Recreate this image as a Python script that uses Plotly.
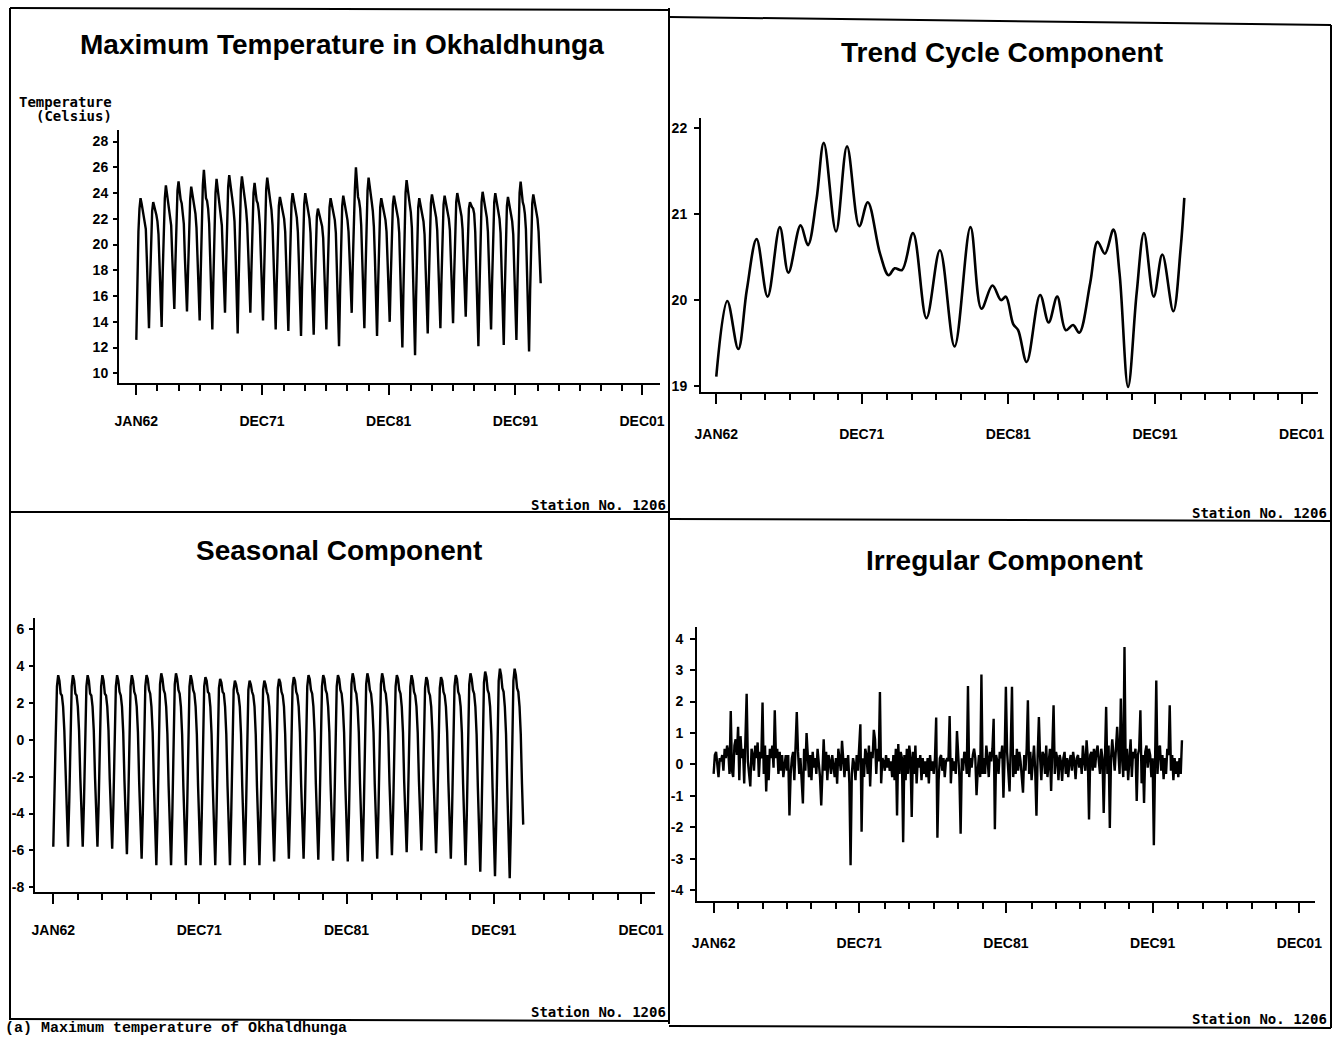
import plotly.graph_objects as go

W, H = 1338, 1038

# ---------------- data (monthly, Jan 1962 .. Dec 1993) ----------------
years = list(range(1962, 1994))
month_idx = list(range(384))          # 0 = JAN62

original_rows = [
    [12.6, 17.2, 21.0, 22.8, 23.6, 23.2, 22.7, 22.5, 22.0, 21.2, 18.8, 16.4],  # 1962
    [13.5, 17.0, 20.6, 22.6, 23.3, 23.0, 22.5, 22.3, 21.8, 20.8, 18.4, 16.0],
    [13.6, 17.8, 21.5, 23.6, 24.6, 24.0, 23.3, 23.0, 22.5, 21.5, 19.2, 17.0],
    [15.0, 18.5, 22.0, 24.2, 24.9, 24.1, 23.5, 23.2, 22.6, 21.6, 19.0, 16.8],
    [14.8, 17.9, 21.4, 23.5, 24.5, 23.9, 23.2, 23.0, 22.4, 21.3, 18.8, 16.5],
    [14.1, 17.8, 22.0, 24.6, 25.8, 24.2, 23.6, 23.4, 22.8, 21.6, 19.0, 16.2],
    [13.4, 17.3, 21.6, 24.0, 25.1, 24.4, 23.7, 23.3, 22.7, 21.5, 19.2, 16.8],
    [14.7, 18.2, 22.2, 24.5, 25.4, 24.6, 23.8, 23.5, 22.8, 21.8, 19.3, 16.4],
    [13.1, 17.4, 21.8, 24.3, 25.3, 24.5, 23.7, 23.4, 22.7, 21.6, 19.4, 16.9],
    [14.7, 18.0, 21.9, 24.0, 24.8, 24.1, 23.4, 23.2, 22.6, 21.5, 19.0, 16.5],
    [14.1, 17.6, 21.9, 24.3, 25.2, 24.4, 23.6, 23.3, 22.7, 21.5, 18.9, 16.2],
    [13.4, 17.0, 20.8, 23.0, 23.7, 23.2, 22.7, 22.5, 22.0, 21.0, 18.5, 16.0],
    [13.3, 17.0, 21.0, 23.2, 24.0, 23.4, 22.8, 22.6, 22.1, 21.0, 18.6, 16.0],
    [12.9, 16.8, 20.9, 23.1, 24.0, 23.4, 22.8, 22.6, 22.0, 20.9, 18.4, 16.1],
    [13.0, 16.6, 20.2, 22.2, 22.8, 22.5, 22.1, 21.9, 21.4, 20.5, 18.3, 16.3],
    [13.4, 17.0, 20.8, 22.9, 23.6, 23.1, 22.6, 22.4, 21.9, 20.9, 18.3, 15.7],
    [12.1, 16.4, 20.6, 23.0, 23.8, 23.2, 22.6, 22.4, 21.9, 21.0, 19.0, 17.2],
    [14.7, 18.4, 22.4, 24.3, 26.0, 24.6, 23.7, 23.4, 22.8, 21.5, 18.8, 16.3],
    [13.5, 17.6, 21.8, 24.2, 25.2, 24.4, 23.6, 23.3, 22.6, 21.4, 18.9, 16.0],
    [12.9, 16.8, 20.7, 22.9, 23.6, 23.1, 22.6, 22.4, 21.9, 21.0, 18.8, 16.6],
    [14.0, 17.4, 21.0, 23.1, 23.8, 23.3, 22.7, 22.5, 22.0, 20.9, 18.0, 15.4],
    [12.0, 16.5, 21.2, 24.0, 25.0, 24.2, 23.4, 23.1, 22.5, 21.3, 18.0, 15.0],
    [11.4, 16.0, 20.5, 22.9, 23.6, 23.1, 22.6, 22.4, 21.8, 20.8, 18.5, 16.2],
    [13.1, 17.0, 21.0, 23.2, 23.9, 23.4, 22.8, 22.6, 22.1, 21.1, 18.8, 16.4],
    [13.5, 17.2, 21.0, 23.1, 23.8, 23.3, 22.7, 22.5, 22.0, 21.1, 18.9, 16.6],
    [13.9, 17.5, 21.2, 23.3, 24.0, 23.5, 22.9, 22.7, 22.2, 21.2, 19.0, 16.8],
    [14.4, 17.6, 21.0, 22.8, 23.3, 23.0, 22.9, 22.8, 22.4, 21.0, 18.0, 15.3],
    [12.1, 16.4, 20.8, 23.3, 24.1, 23.5, 22.9, 22.7, 22.1, 21.0, 18.6, 16.2],
    [13.4, 17.2, 21.1, 23.3, 24.0, 23.4, 22.8, 22.6, 22.0, 20.9, 18.0, 15.0],
    [12.2, 16.4, 20.6, 23.0, 23.7, 23.1, 22.6, 22.3, 21.8, 20.8, 18.0, 15.2],
    [12.6, 17.0, 21.5, 24.0, 24.9, 24.0, 23.3, 23.0, 22.4, 21.2, 18.0, 14.8],
    [11.7, 16.4, 21.0, 23.2, 23.9, 23.4, 22.8, 22.6, 22.0, 21.0, 19.2, 17.0],  # 1993
]

seasonal_rows = [
    [-5.8, -3.4, 0.2, 2.9, 3.5, 3.2, 2.5, 2.4, 1.8, 0.5, -2.0, -4.4],  # 1962
    [-5.8, -3.4, 0.2, 2.9, 3.5, 3.2, 2.5, 2.4, 1.8, 0.5, -2.0, -4.4],
    [-5.8, -3.4, 0.2, 2.9, 3.5, 3.2, 2.5, 2.4, 1.8, 0.5, -2.0, -4.5],
    [-5.8, -3.4, 0.1, 2.9, 3.5, 3.2, 2.5, 2.4, 1.8, 0.5, -2.1, -4.6],
    [-5.9, -3.5, 0.1, 2.9, 3.5, 3.2, 2.6, 2.4, 1.8, 0.4, -2.2, -4.7],
    [-6.2, -3.7, 0.0, 2.9, 3.5, 3.2, 2.6, 2.4, 1.8, 0.4, -2.3, -4.9],
    [-6.45, -3.9, -0.1, 2.9, 3.5, 3.3, 2.7, 2.5, 1.8, 0.4, -2.4, -5.1],
    [-6.8, -4.1, -0.2, 3.0, 3.6, 3.3, 2.7, 2.5, 1.8, 0.3, -2.5, -5.2],
    [-6.8, -4.1, -0.2, 3.0, 3.6, 3.3, 2.7, 2.5, 1.8, 0.3, -2.5, -5.2],
    [-6.8, -4.1, -0.2, 2.9, 3.5, 3.2, 2.7, 2.5, 1.8, 0.3, -2.5, -5.2],
    [-6.8, -4.1, -0.2, 2.9, 3.4, 3.2, 2.6, 2.5, 1.8, 0.3, -2.5, -5.2],
    [-6.8, -4.1, -0.2, 2.8, 3.3, 3.1, 2.6, 2.5, 1.8, 0.3, -2.5, -5.2],
    [-6.8, -4.1, -0.3, 2.7, 3.2, 3.0, 2.6, 2.4, 1.8, 0.3, -2.5, -5.2],
    [-6.8, -4.1, -0.3, 2.7, 3.2, 3.0, 2.6, 2.4, 1.8, 0.3, -2.5, -5.2],
    [-6.8, -4.1, -0.3, 2.7, 3.2, 3.0, 2.6, 2.4, 1.8, 0.3, -2.5, -5.1],
    [-6.6, -4.0, -0.2, 2.8, 3.3, 3.1, 2.6, 2.4, 1.8, 0.3, -2.4, -5.0],
    [-6.45, -3.9, -0.1, 2.9, 3.4, 3.2, 2.6, 2.4, 1.8, 0.4, -2.4, -4.9],
    [-6.45, -3.9, -0.1, 2.9, 3.5, 3.3, 2.7, 2.5, 1.8, 0.4, -2.4, -5.0],
    [-6.5, -3.9, -0.1, 2.9, 3.5, 3.3, 2.7, 2.5, 1.8, 0.4, -2.4, -5.0],
    [-6.55, -4.0, -0.1, 2.9, 3.5, 3.3, 2.7, 2.5, 1.8, 0.4, -2.4, -5.1],
    [-6.6, -4.0, -0.1, 3.0, 3.6, 3.3, 2.7, 2.5, 1.8, 0.4, -2.4, -5.1],
    [-6.6, -4.0, -0.1, 3.0, 3.6, 3.3, 2.7, 2.5, 1.8, 0.4, -2.4, -5.0],
    [-6.45, -3.9, -0.1, 3.0, 3.6, 3.3, 2.7, 2.5, 1.8, 0.4, -2.3, -4.9],
    [-6.25, -3.8, 0.0, 2.9, 3.5, 3.3, 2.7, 2.5, 1.8, 0.4, -2.3, -4.8],
    [-6.1, -3.7, 0.0, 2.9, 3.5, 3.2, 2.6, 2.4, 1.8, 0.4, -2.2, -4.7],
    [-6.0, -3.6, 0.0, 2.8, 3.4, 3.2, 2.6, 2.4, 1.8, 0.4, -2.2, -4.8],
    [-6.15, -3.7, 0.0, 2.8, 3.4, 3.2, 2.6, 2.4, 1.8, 0.4, -2.3, -4.9],
    [-6.45, -3.9, -0.1, 2.9, 3.5, 3.3, 2.6, 2.4, 1.8, 0.4, -2.4, -5.1],
    [-6.8, -4.1, -0.2, 3.0, 3.6, 3.3, 2.7, 2.5, 1.8, 0.3, -2.5, -5.3],
    [-7.15, -4.3, -0.3, 3.1, 3.7, 3.4, 2.7, 2.5, 1.8, 0.3, -2.6, -5.5],
    [-7.4, -4.5, -0.4, 3.2, 3.85, 3.5, 2.8, 2.6, 1.8, 0.3, -2.6, -5.6],
    [-7.5, -4.6, -0.4, 3.2, 3.85, 3.5, 2.8, 2.6, 1.8, 0.3, -2.4, -4.6],  # 1993
]

irregular_rows = [
    [-0.3, 0.3, 0.4, -0.1, -0.4, 0.2, 0.1, 0.3, -0.2, 0.5, 0.2, 0.6],  # 1962
    [0.4, -0.3, 1.7, -0.2, -0.4, 0.6, 0.8, 0.3, 1.2, -0.5, 0.9, 0.2],
    [0.5, -0.6, 0.7, 2.25, 0.1, -0.4, -0.7, 0.5, 0.3, -0.2, 0.6, 0.2],
    [0.7, -0.4, 0.4, 0.2, 1.97, -0.3, 0.6, -0.86, 0.3, -0.5, 0.5, 0.2],
    [0.6, -0.1, 1.72, 0.2, 0.5, -0.3, 0.4, -0.2, 0.3, -0.4, 0.1, 0.3],
    [-0.2, 0.3, -1.62, -0.3, 0.2, 0.4, -0.5, 0.6, 1.67, 0.4, -0.3, 0.2],
    [-0.4, -1.24, 0.5, -0.2, 1.0, 0.1, -0.4, 0.3, -0.5, 0.4, -0.1, 0.2],
    [-0.3, 0.5, 0.1, -0.4, -1.3, 0.2, 0.8, -0.2, 0.4, -0.5, 0.3, 0.1],
    [-0.3, 0.3, 0.0, -0.4, 0.2, -0.61, 0.5, 0.1, -0.2, 0.75, 0.3, -0.4],
    [0.2, -0.2, 0.3, -0.6, -3.2, -0.3, 0.2, 0.0, -0.5, 0.3, -0.2, 0.4],
    [1.28, -2.14, 0.2, -0.4, 0.5, 0.3, -0.3, 0.6, -0.7, 0.4, 0.2, 1.1],
    [0.8, -0.3, 0.5, 0.1, 2.3, -0.6, 0.2, 0.1, -0.2, 0.3, -0.1, 0.2],
    [-0.2, 0.1, -0.4, 0.3, -0.5, 0.5, -1.62, 0.65, -0.3, 0.4, 0.2, -2.47],
    [0.3, -0.5, 0.5, -0.3, 0.6, 0.2, -1.67, 0.4, -0.3, 0.6, -0.6, 0.2],
    [-0.1, 0.3, -0.5, 0.2, -0.3, 0.1, -0.4, 0.2, -0.6, 0.3, -0.2, 0.1],
    [-0.3, 0.2, 1.49, -2.33, -0.5, 0.2, 0.3, -0.2, 0.2, -0.4, 0.1, 0.2],
    [0.1, 1.54, -0.6, 0.2, -0.2, 0.1, -0.3, 1.06, 0.3, -0.4, -2.2, 0.2],
    [-0.2, 0.4, 0.3, -0.3, 2.49, -0.4, 0.2, -0.1, 0.3, 0.5, 0.2, -0.98],
    [-0.2, 0.3, -0.4, 2.86, -0.3, 0.2, -0.3, 0.6, 0.2, -0.4, 0.4, 0.1],
    [0.5, 1.45, -2.06, 0.3, 0.1, -0.3, 0.4, 0.2, 0.6, -1.06, 0.3, 2.47],
    [0.4, -0.5, -0.86, 0.6, 2.47, -0.4, 0.3, -0.3, 0.5, -0.2, 0.4, 0.1],
    [-0.4, -0.9, 0.3, -0.2, 0.5, 2.04, -0.3, 0.4, -0.5, 0.2, 0.6, -0.2],
    [-1.63, 0.3, 1.51, 0.2, -0.5, 0.4, 0.3, -0.3, 0.6, -0.4, 0.2, 0.5],
    [-0.84, 0.3, 1.88, -0.3, 0.4, 0.2, -0.5, 0.3, 0.1, -0.52, 0.2, 0.4],
    [-0.3, 0.2, -0.4, 0.1, 0.3, -0.2, 0.4, 0.1, -0.47, 0.2, 0.3, -0.1],
    [0.2, -0.3, 0.6, 0.1, -0.2, 0.77, 0.2, -1.75, 0.3, 0.4, -0.2, 0.5],
    [-0.1, 0.4, 0.6, 0.1, -0.3, 0.5, 0.2, -1.54, 0.4, 1.83, -0.3, 0.6],
    [-2.02, 0.2, 0.8, 0.3, -0.2, 0.5, 1.2, 0.4, -0.3, 2.1, 0.2, -0.4],
    [3.73, -0.2, 0.5, -0.5, 0.3, 0.8, -0.4, 0.4, 0.2, 0.5, -1.16, 0.3],
    [0.5, 1.72, -0.6, 0.3, -1.22, 0.4, 0.6, -0.1, 0.5, 0.3, -0.4, 0.2],
    [-2.57, 0.4, 2.67, -0.3, 0.5, 0.6, -0.2, 0.3, -0.47, 0.2, -0.3, 0.5],
    [0.3, 1.88, -0.2, 0.3, -0.5, 0.2, -0.3, 0.1, -0.4, 0.2, -0.3, 0.77],  # 1993
]

# trend-cycle read at its turning points (month index, value)
trend_month = [0, 9, 18, 25, 33, 42, 52, 59, 69, 75, 82, 88, 98, 107, 117, 124,
               134, 141, 146, 152, 161, 172, 183, 195, 208, 217, 226, 233, 237,
               243, 247, 254, 265, 272, 279, 286, 292, 297, 306, 312, 318, 325,
               330, 337, 344, 350, 358, 365, 374, 380, 383]
trend_value = [19.11, 19.99, 19.43, 20.12, 20.71, 20.04, 20.85, 20.32, 20.87, 20.64,
               21.17, 21.83, 20.80, 21.79, 20.86, 21.14, 20.54, 20.29, 20.37, 20.35,
               20.78, 19.79, 20.58, 19.46, 20.85, 19.90, 20.17, 20.00, 20.04, 19.72,
               19.65, 19.28, 20.06, 19.74, 20.04, 19.65, 19.71, 19.62, 20.20, 20.68,
               20.54, 20.82, 20.31, 18.99, 20.08, 20.78, 20.04, 20.53, 19.87, 20.60,
               21.19]

major_ticks = [0, 119, 239, 359, 479]
major_labels = ["JAN62", "DEC71", "DEC81", "DEC91", "DEC01"]
minor_ticks = [20, 40, 60, 80, 100, 140, 160, 180, 200, 220, 260, 280, 300, 320,
               340, 380, 400, 420, 440, 460]

temp_ticks = [10, 12, 14, 16, 18, 20, 22, 24, 26, 28]
trend_ticks = [19, 20, 21, 22]
seas_ticks = [6, 4, 2, 0, -2, -4, -6, -8]
irr_ticks = [4, 3, 2, 1, 0, -1, -2, -3, -4]

original = [v for row in original_rows for v in row]
seasonal = [v for row in seasonal_rows for v in row]
irregular = [v for row in irregular_rows for v in row]


# ---------------- helpers ----------------
def px(x):
    return x / W


def py(y):
    return 1 - y / H


TICKFONT = dict(family="Liberation Sans", size=14, color="black", weight="bold")


def xaxis(dom, rng, anchor, standoff):
    return dict(domain=[px(dom[0]), px(dom[1])], range=rng, anchor=anchor,
                automargin=False,
                showline=True, linecolor="black", linewidth=2,
                ticks="outside", ticklen=10, tickwidth=2, tickcolor="black",
                tickmode="array", tickvals=major_ticks, ticktext=major_labels,
                tickfont=TICKFONT, ticklabelstandoff=standoff,
                minor=dict(tickmode="array", tickvals=minor_ticks, ticks="outside",
                           ticklen=6, tickwidth=2, tickcolor="black", showgrid=False),
                showgrid=False, zeroline=False, fixedrange=True)


def yaxis(dom, rng, anchor, vals, standoff, ticklen=4):
    return dict(domain=[py(dom[1]), py(dom[0])], range=rng, anchor=anchor,
                automargin=False,
                showline=True, linecolor="black", linewidth=2,
                ticks="outside", ticklen=ticklen, tickwidth=2, tickcolor="black",
                tickmode="array", tickvals=vals, ticktext=[str(v) for v in vals],
                tickfont=TICKFONT, ticklabelstandoff=standoff,
                showgrid=False, zeroline=False, fixedrange=True)


LINE = dict(color="black", width=2.4)

fig = go.Figure()
fig.add_trace(go.Scatter(x=month_idx, y=original, mode="lines", line=LINE,
                         xaxis="x", yaxis="y", showlegend=False, hoverinfo="skip"))
fig.add_trace(go.Scatter(x=trend_month, y=trend_value, mode="lines",
                         line=dict(color="black", width=2.6, shape="spline", smoothing=1.0),
                         xaxis="x2", yaxis="y2", showlegend=False, hoverinfo="skip"))
fig.add_trace(go.Scatter(x=month_idx, y=seasonal, mode="lines", line=LINE,
                         xaxis="x3", yaxis="y3", showlegend=False, hoverinfo="skip"))
fig.add_trace(go.Scatter(x=month_idx, y=irregular, mode="lines", line=LINE,
                         xaxis="x4", yaxis="y4", showlegend=False, hoverinfo="skip"))

layout = dict(
    template="none",
    width=W, height=H, margin=dict(l=0, r=0, t=0, b=0, pad=0, autoexpand=False),
    paper_bgcolor="white", plot_bgcolor="white", showlegend=False,
    xaxis=xaxis((119, 660), [-16.4, 496], "y", 14),
    yaxis=yaxis((130, 383), [9.25, 28.9], "x", temp_ticks, 2),
    xaxis2=xaxis((701, 1318), [-12.5, 492.4], "y2", 18),
    yaxis2=yaxis((118, 392), [18.93, 22.12], "x2", trend_ticks, 4, 5),
    xaxis3=xaxis((35, 655), [-14.9, 490.4], "y3", 14),
    yaxis3=yaxis((618, 892), [-8.25, 6.6], "x3", seas_ticks, 2),
    xaxis4=xaxis((697, 1315), [-13.6, 491.8], "y4", 18),
    yaxis4=yaxis((627, 901), [-4.34, 4.37], "x4", irr_ticks, 4, 5),
)
fig.update_layout(**layout)

# ---------------- frames ----------------
frame_lines = [
    (10, 8, 10, 1020),       # left edge
    (10, 8, 669, 10),        # top left
    (669, 17, 1331, 25),     # top right
    (669, 8, 669, 1024),     # middle divider
    (1331, 25, 1331, 1028),  # right edge
    (10, 512, 669, 512),     # mid horizontal left
    (669, 519, 1331, 521),   # mid horizontal right
    (10, 1019, 669, 1021),   # bottom left
    (669, 1026, 1331, 1028), # bottom right
]
shapes = []
for x0, y0, x1, y1 in frame_lines:
    shapes.append(dict(type="line", xref="paper", yref="paper",
                       x0=px(x0), y0=py(y0), x1=px(x1), y1=py(y1),
                       line=dict(color="black", width=2)))
fig.update_layout(shapes=shapes)

# ---------------- text ----------------
TITLEFONT = dict(family="Liberation Sans", size=28, color="black", weight="bold")
MONO = dict(family="DejaVu Sans Mono", size=14, color="black", weight="bold")

ann = []


def add_text(text, x, y, font, xanchor="center", yanchor="middle"):
    ann.append(dict(text=text, x=px(x), y=py(y), xref="paper", yref="paper",
                    showarrow=False, font=font, xanchor=xanchor, yanchor=yanchor,
                    borderpad=0))


add_text("Maximum Temperature in Okhaldhunga", 342, 45, TITLEFONT)
add_text("Trend Cycle Component", 1002, 52, TITLEFONT)
add_text("Seasonal Component", 339, 550, TITLEFONT)
add_text("Irregular Component", 1005, 560, TITLEFONT)

add_text("Temperature", 113, 102, MONO, xanchor="right")
add_text("(Celsius)", 113, 116, MONO, xanchor="right")

add_text("Station No. 1206", 667, 505, MONO, xanchor="right")
add_text("Station No. 1206", 1328, 513, MONO, xanchor="right")
add_text("Station No. 1206", 667, 1012, MONO, xanchor="right")
add_text("Station No. 1206", 1328, 1019, MONO, xanchor="right")

add_text("(a) Maximum temperature of Okhaldhunga", 4, 1038,
         dict(family="Liberation Mono", size=15, color="black", weight="bold"),
         xanchor="left", yanchor="bottom")

fig.update_layout(annotations=ann)

fig.write_html("out.html")
